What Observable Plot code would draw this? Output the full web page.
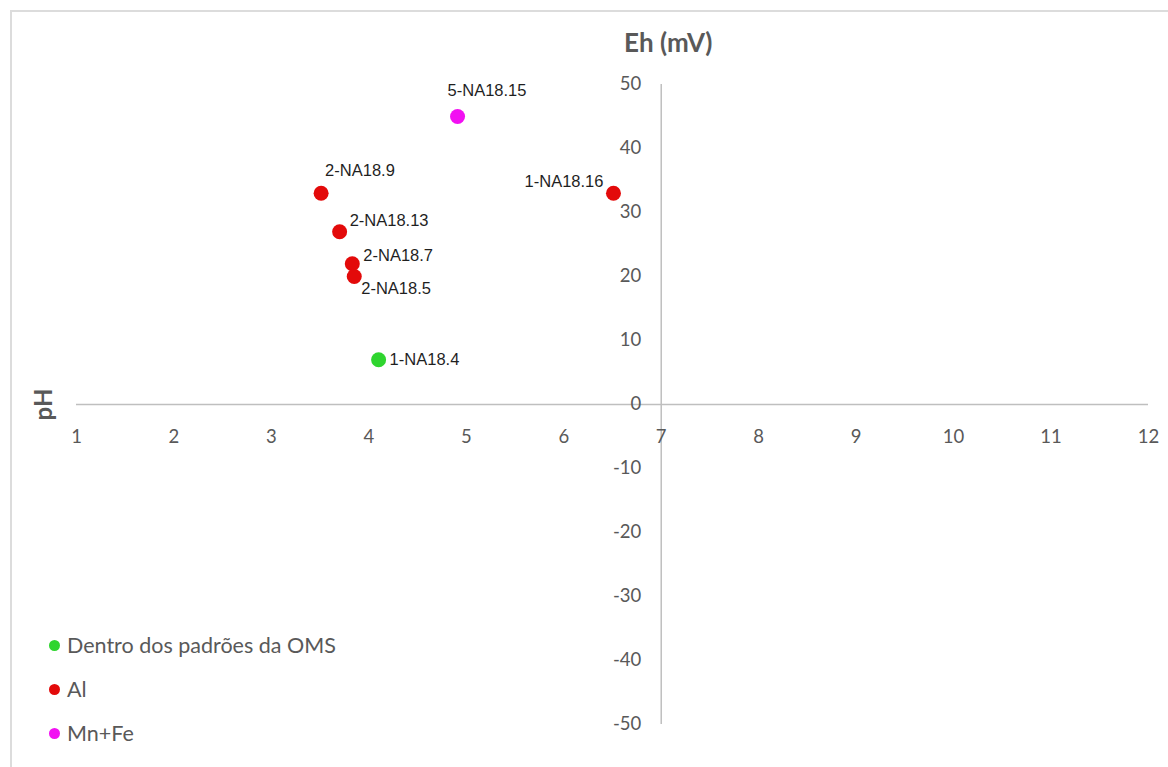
<!DOCTYPE html>
<html>
<head>
<meta charset="utf-8">
<script src="https://cdn.jsdelivr.net/npm/d3@7"></script>
<script src="https://cdn.jsdelivr.net/npm/@observablehq/plot@0.6"></script>
<style>
  html, body { margin: 0; padding: 0; background: #fff; overflow: hidden; }
  #wrap { position: relative; width: 1168px; height: 767px; }
  #frame { position: absolute; left: 10px; top: 10px; width: 1200px; height: 800px; border-left: 2px solid #dcdcdc; border-top: 2px solid #dcdcdc; box-sizing: border-box; pointer-events: none; }
  #legend { position: absolute; left: 49px; top: 623px; font-family: Lato, "Open Sans", sans-serif; font-size: 21.5px; color: #595959; }
  #legend .row { display: flex; align-items: center; height: 44px; }
  #legend .dot { width: 11px; height: 11px; border-radius: 50%; margin-right: 7px; }
</style>
</head>
<body>
<div id="wrap">
  <div id="chart"></div>
  <div id="frame"></div>
  <div id="legend"></div>
</div>
<script>
// Data
const categories = ["Dentro dos padrões da OMS", "Al", "Mn+Fe"];
const categoryColors = ["#2fd52f", "#e30a0a", "#f210f2"];
const samples = ["5-NA18.15", "2-NA18.9", "1-NA18.16", "2-NA18.13", "2-NA18.7", "2-NA18.5", "1-NA18.4"];
const pHValues = [4.91, 3.51, 6.51, 3.70, 3.83, 3.85, 4.10];
const EhValues = [45, 33, 33, 27, 22, 20, 7];
const groups = ["Mn+Fe", "Al", "Al", "Al", "Al", "Al", "Dentro dos padrões da OMS"];
const xTicks = [1, 2, 3, 4, 5, 6, 7, 8, 9, 10, 11, 12];
const yTicks = [-50, -40, -30, -20, -10, 0, 10, 20, 30, 40, 50];

const data = samples.map((s, i) => ({ sample: s, pH: pHValues[i], Eh: EhValues[i], group: groups[i] }));

// label placement (style)
const labelPlacement = [
  { name: "5-NA18.15", anchor: "start", dx: -10, dy: -26 },
  { name: "2-NA18.9",  anchor: "start", dx: 4,   dy: -23 },
  { name: "1-NA18.16", anchor: "end",   dx: -10, dy: -12 },
  { name: "2-NA18.13", anchor: "start", dx: 10,  dy: -11 },
  { name: "2-NA18.7",  anchor: "start", dx: 11,  dy: -8 },
  { name: "2-NA18.5",  anchor: "start", dx: 7,   dy: 12 },
  { name: "1-NA18.4",  anchor: "start", dx: 11,  dy: 0 }
];

const axisColor = "#bfbfbf";
const tickFont = "Lato, 'Open Sans', sans-serif";

const chart = Plot.plot({
  width: 1168,
  height: 767,
  marginLeft: 76,
  marginRight: 20,
  marginTop: 84,
  marginBottom: 43,
  style: { background: "transparent", overflow: "visible" },
  x: { domain: [1, 12], axis: null },
  y: { domain: [-50, 50], axis: null },
  color: { domain: categories, range: categoryColors },
  marks: [
    Plot.ruleY([0], { x1: 1, x2: 12, stroke: axisColor, strokeWidth: 1.5 }),
    Plot.ruleX([7], { y1: -50, y2: 50, stroke: axisColor, strokeWidth: 1.5 }),
    Plot.text(xTicks, { x: d => d, y: 0, dy: 33, text: d => String(d), fill: "#595959", fontSize: 18.5, fontFamily: tickFont }),
    Plot.text(yTicks, { x: 7, y: d => d, dx: -20, textAnchor: "end", text: d => String(d), fill: "#595959", fontSize: 18.5, fontFamily: tickFont }),
    Plot.text(["Eh (mV)"], { x: 7, y: 50, dy: -41, dx: 7, text: d => d, fill: "#595959", fontSize: 26, fontWeight: "bold", fontFamily: tickFont }),
    Plot.text(["pH"], { x: 1, y: 0, dx: -32, rotate: -90, text: d => d, fill: "#595959", fontSize: 24, fontWeight: "bold", fontFamily: tickFont }),
    Plot.dot(data, { x: "pH", y: "Eh", fill: "group", r: 7.5 }),
    ...labelPlacement.map(p => Plot.text(data.filter(d => d.sample === p.name), {
      x: "pH", y: "Eh", text: "sample", textAnchor: p.anchor, dx: p.dx, dy: p.dy,
      fill: "#1f1f1f", fontSize: 16.5, fontFamily: "Arial, 'Liberation Sans', sans-serif"
    }))
  ]
});
document.getElementById("chart").appendChild(chart);

const legend = document.getElementById("legend");
categories.forEach((c, i) => {
  const row = document.createElement("div");
  row.className = "row";
  const dot = document.createElement("span");
  dot.className = "dot";
  dot.style.background = categoryColors[i];
  const lab = document.createElement("span");
  lab.textContent = c;
  row.appendChild(dot);
  row.appendChild(lab);
  legend.appendChild(row);
});
</script>
</body>
</html>
